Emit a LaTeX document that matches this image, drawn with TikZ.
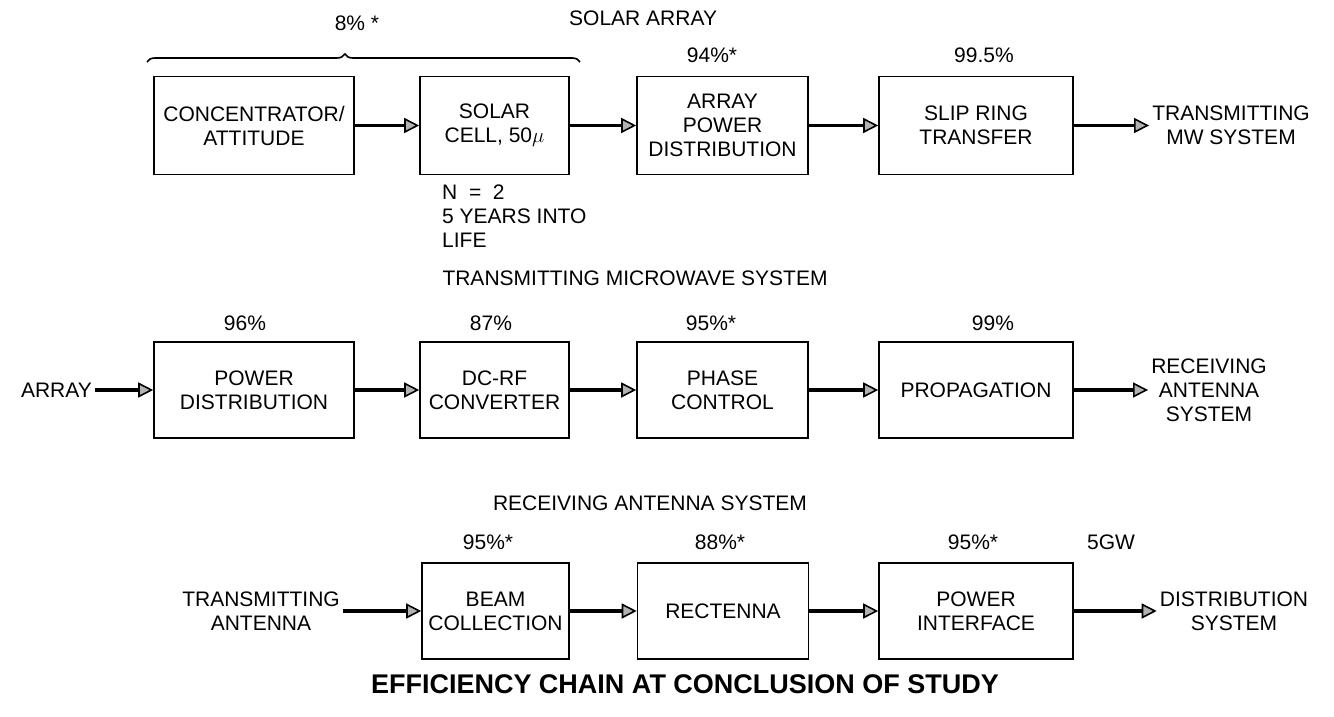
\documentclass[tikz,border=0pt]{standalone}
\usepackage{fontspec}
\setmainfont{Liberation Sans}
\usetikzlibrary{positioning, arrows.meta, decorations.pathreplacing}

\begin{document}
\begin{tikzpicture}[x=1pt, y=-1pt,
    blk/.style={draw=black, line width=1.6pt, align=center, inner sep=0pt},
    colA/.style={blk, minimum width=200pt},
    colB/.style={blk, minimum width=149pt},
    colC/.style={blk, minimum width=171pt},
    colD/.style={blk, minimum width=194pt},
    rowA/.style={minimum height=98pt},
    rowB/.style={minimum height=96pt},
    lbl/.style={align=center, inner sep=1pt},
    io/.style={align=center, inner sep=3pt},
    arr/.style={line width=3.6pt, -{Triangle[length=15pt, width=15pt, fill=black!30, line width=1.6pt]}},
    every node/.style={font=\fontsize{21}{24}\selectfont}
]
\useasboundingbox (0,0) rectangle (1334,717);

% Solar array
\node[lbl] (hdA) at (568,18) [anchor=west] {SOLAR ARRAY};
\node[colA, rowA] (conc) at (254,125.5) {CONCENTRATOR/\\ATTITUDE};
\node[colB, rowA] (cell) at (494.5,125.5) {SOLAR\\CELL, 50$\mu$};
\node[colC, rowA] (apd) at (722.5,125.5) {ARRAY\\POWER\\DISTRIBUTION};
\node[colD, rowA] (slip) at (976,125.5) {SLIP RING\\TRANSFER};
\node[io] (mwsys) at (1231,125.5) {TRANSMITTING\\MW SYSTEM};

\node[lbl] (pA0) at (357,23) {8\% *};
\node[lbl] (pA3) at (712,55) {94\%*};
\node[lbl] (pA4) at (984,55) {99.5\%};
\node[lbl, align=left, anchor=west] (note) at (441,216) {N \ = \ 2\\5 YEARS INTO\\LIFE};

\coordinate (brL) at (147,62);
\coordinate (brR) at (580,62);
\draw[line width=1.6pt, decorate, decoration={brace, amplitude=8pt, aspect=0.457}] (brL) -- (brR);

\draw[arr] (conc) -- (cell);
\draw[arr] (cell) -- (apd);
\draw[arr] (apd) -- (slip);
\draw[arr] (slip) -- (mwsys);

% Transmitting microwave system
\node[lbl] (hdB) at (635,278) {TRANSMITTING MICROWAVE SYSTEM};
\node[io, anchor=east] (array) at (95,390) {ARRAY};
\node[colA, rowB] (pdist) at (254,390) {POWER\\DISTRIBUTION};
\node[colB, rowB] (dcrf) at (494.5,390) {DC-RF\\CONVERTER};
\node[colC, rowB] (phase) at (722.5,390) {PHASE\\CONTROL};
\node[colD, rowB] (prop) at (976,390) {PROPAGATION};
\node[io] (ras) at (1209,390) {RECEIVING\\ANTENNA\\SYSTEM};

\node[lbl] (pB1) at (245,323) {96\%};
\node[lbl] (pB2) at (491,323) {87\%};
\node[lbl] (pB3) at (711,323) {95\%*};
\node[lbl] (pB4) at (993,323) {99\%};

\draw[arr] (array) -- (pdist);
\draw[arr] (pdist) -- (dcrf);
\draw[arr] (dcrf) -- (phase);
\draw[arr] (phase) -- (prop);
\draw[arr] (prop) -- (ras);

% Receiving antenna system
\node[lbl] (hdC) at (650,503) {RECEIVING ANTENNA SYSTEM};
\node[io] (tant) at (261,611) {TRANSMITTING\\ANTENNA};
\node[colB, rowB, minimum width=147pt] (beam) at (495.5,611) {BEAM\\COLLECTION};
\node[colC, rowB] (rect) at (723,611) {RECTENNA};
\node[colD, rowB] (pint) at (976,611) {POWER\\INTERFACE};
\node[io] (dist) at (1234,611) {DISTRIBUTION\\SYSTEM};

\node[lbl] (pC2) at (488,542) {95\%*};
\node[lbl] (pC3) at (720,542) {88\%*};
\node[lbl] (pC4) at (973,542) {95\%*};
\node[lbl] (gw) at (1111,542) {5GW};

\draw[arr] (tant) -- (beam);
\draw[arr] (beam) -- (rect);
\draw[arr] (rect) -- (pint);
\draw[arr] (pint) -- (dist);

\node[lbl, font=\fontsize{27}{30}\selectfont\bfseries] (title) at (685,684) {EFFICIENCY CHAIN AT CONCLUSION OF STUDY};

\end{tikzpicture}
\end{document}
